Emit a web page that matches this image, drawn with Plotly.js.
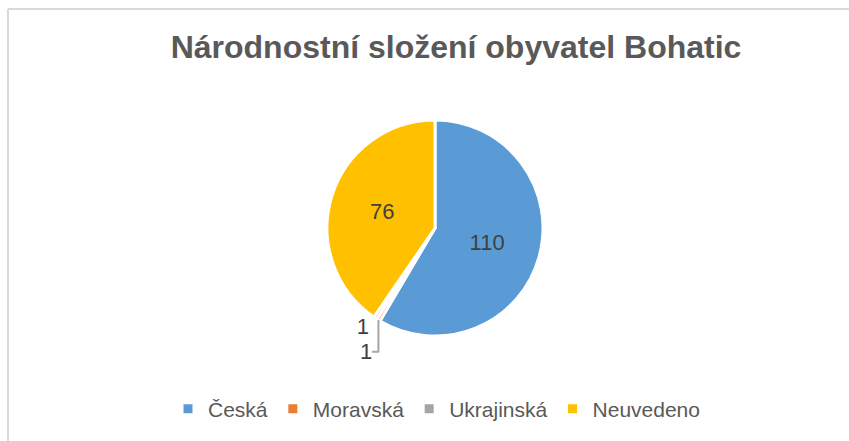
<!DOCTYPE html>
<html>
<head>
<meta charset="utf-8">
<script src="https://cdn.plot.ly/plotly-3.0.1.min.js"></script>
<style>
html,body{margin:0;padding:0;background:#fff;}
#chart{width:849px;height:441px;}
</style>
</head>
<body>
<div id="chart"></div>
<script>
const categories = ["Česká", "Moravská", "Ukrajinská", "Neuvedeno"];
const values = [110, 1, 1, 76];
const colors = ["#5B9BD5", "#ED7D31", "#A5A5A5", "#FFC000"];
const textPositions = ["inside", "outside", "outside", "inside"];

const W = 849, H = 441;
const cx = 435, cy = 228, r = 108;
const FONT = "Liberation Sans, Arial, sans-serif";

const trace = {
  type: "pie",
  labels: categories,
  values: values,
  sort: false,
  direction: "clockwise",
  rotation: 0,
  marker: {colors: colors, line: {color: "#ffffff", width: 3}},
  textinfo: "value",
  textposition: textPositions,
  insidetextorientation: "horizontal",
  textfont: {family: FONT, size: 22, color: "#404040"},
  outsidetextfont: {family: FONT, size: 22, color: "#404040"},
  hoverinfo: "label+value",
  domain: {x: [(cx - r) / W, (cx + r) / W], y: [(H - cy - r) / H, (H - cy + r) / H]}
};

const layout = {
  width: W, height: H,
  margin: {l: 0, r: 0, t: 0, b: 0},
  paper_bgcolor: "#ffffff",
  title: {
    text: "<b>Národnostní složení obyvatel Bohatic</b>",
    font: {family: FONT, size: 32, color: "#595959"},
    x: 456 / W, xanchor: "center",
    y: 1 - 47 / H, yanchor: "middle",
    xref: "paper", yref: "paper"
  },
  showlegend: true,
  legend: {
    orientation: "h",
    x: 0.5 + 12 / W, xanchor: "center",
    y: 1 - 409 / H, yanchor: "middle",
    font: {family: FONT, size: 21, color: "#595959"},
    itemwidth: 30,
    traceorder: "normal"
  },
  shapes: [
    {type: "line", xref: "paper", yref: "paper", x0: 8 / W, x1: 1, y0: 1 - 9 / H, y1: 1 - 9 / H, line: {color: "#D9D9D9", width: 2}},
    {type: "line", xref: "paper", yref: "paper", x0: 8 / W, x1: 8 / W, y0: 0, y1: 1 - 9 / H, line: {color: "#D9D9D9", width: 2}}
  ]
};

Plotly.newPlot("chart", [trace], layout, {displayModeBar: false, staticPlot: true}).then(function () {
  document.querySelectorAll("#chart path.textline").forEach(function (p) {
    p.style.setProperty("stroke", "#A6A6A6");
  });
});
</script>
</body>
</html>
